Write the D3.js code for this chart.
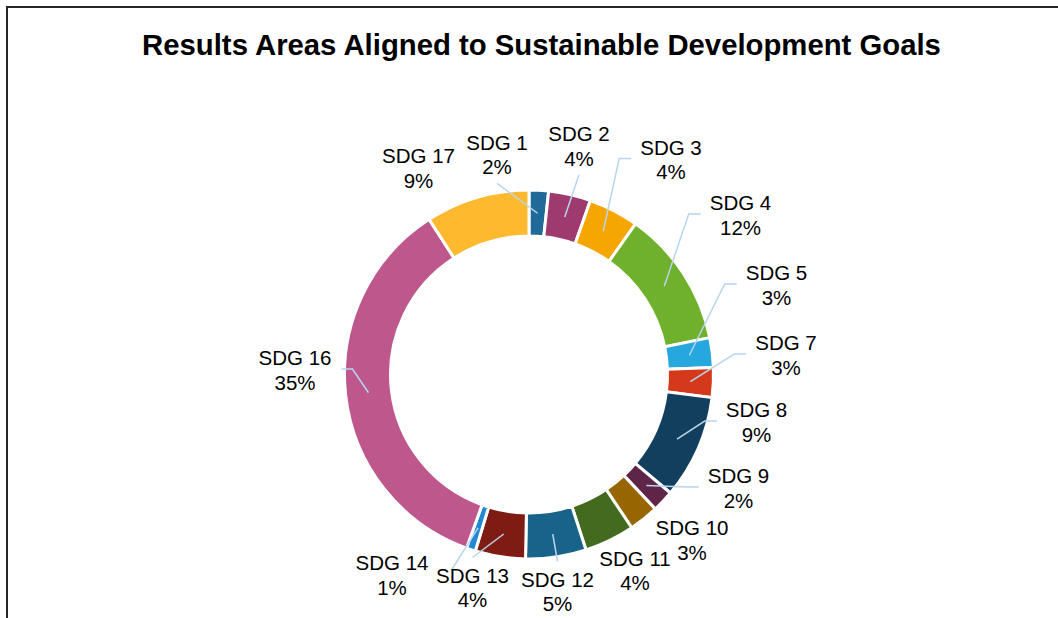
<!DOCTYPE html>
<html>
<head>
<meta charset="utf-8">
<script src="https://cdn.jsdelivr.net/npm/d3@7"></script>
<style>
  html, body { margin: 0; padding: 0; background: #ffffff; }
  svg { display: block; }
  text { font-family: "Liberation Sans", Arial, sans-serif; fill: #000; }
</style>
</head>
<body>
<svg id="chart" width="1058" height="618"></svg>
<script>
// ---------------- data ----------------
const title = "Results Areas Aligned to Sustainable Development Goals";
const categories = ["SDG 1","SDG 2","SDG 3","SDG 4","SDG 5","SDG 7","SDG 8","SDG 9","SDG 10","SDG 11","SDG 12","SDG 13","SDG 14","SDG 16","SDG 17"];
const shares = [1.7, 3.7, 4.4, 12.0, 2.6, 2.6, 9.1, 1.9, 2.6, 4.4, 5.3, 4.4, 0.8, 35.4, 9.1];
const colors = ["#1f6a99","#9e3a6e","#f6a600","#6fb02c","#26a8df","#d4391c","#133f5e","#5e2549","#976603","#436b1f","#19638a","#7e1c13","#2189d4","#be578c","#feb92f"];

// ---------------- layout (label placement, as in the reference) ----------------
const labelPos = [
  [497,149.5],[579,141],[671,154.5],[740.5,210],[776.5,280],[786,350],[756.5,417],
  [738.5,483],[692,535],[635,565.5],[557.5,586.5],[472.5,582.5],[392,570],[295,365],[418.5,163]
];
const leaderType = ["below","below","left","left","left","left","left","left","none","none","above","above","rightShort","right","none"];

const W = 1058, H = 618;
const cx = 529, cy = 374.5;
const rOuter = 184.5, rInner = 138.5;
const fontSize = 20.5, lineGap = 24.8;

const svg = d3.select("#chart");

// frame
svg.append("path")
  .attr("d", `M7,${H} L7,7 L${W},7`)
  .attr("fill", "none")
  .attr("stroke", "#262626")
  .attr("stroke-width", 2);

// title
svg.append("text")
  .attr("x", 541.5)
  .attr("y", 55)
  .attr("text-anchor", "middle")
  .style("font-size", "29.3px")
  .style("font-weight", "bold")
  .text(title);

const data = categories.map((c, i) => ({ name: c, value: shares[i], color: colors[i], i }));
const total = d3.sum(shares);
const pct = d3.format(".0%");

const pie = d3.pie().sort(null).value(d => d.value);
const arcs = pie(data);
const arc = d3.arc().innerRadius(rInner).outerRadius(rOuter);
const centroidArc = d3.arc().innerRadius(140).outerRadius(183);

const g = svg.append("g").attr("transform", `translate(${cx},${cy})`);
g.selectAll("path.slice")
  .data(arcs)
  .join("path")
  .attr("class", "slice")
  .attr("d", arc)
  .attr("fill", d => d.data.color)
  .attr("stroke", "#ffffff")
  .attr("stroke-width", 3);

// labels
const labelG = svg.append("g");
arcs.forEach((a, i) => {
  const [lx, ly] = labelPos[i];
  const t = labelG.append("text")
    .attr("text-anchor", "middle")
    .style("font-size", fontSize + "px");
  t.append("tspan").attr("x", lx).attr("y", ly).text(a.data.name);
  t.append("tspan").attr("x", lx).attr("y", ly + lineGap).text(pct(a.data.value / total));
  const bb = t.node().getBBox();
  const [c0x, c0y] = centroidArc.centroid(a);
  const start = [cx + c0x, cy + c0y];
  const midY = ly + 4;
  let pts = null;
  switch (leaderType[i]) {
    case "left":
      pts = [start, [bb.x - 21, midY], [bb.x - 9, midY]]; break;
    case "right":
      pts = [start, [bb.x + bb.width + 21, midY], [bb.x + bb.width + 10, midY]]; break;
    case "rightShort":
      pts = [start, [bb.x + bb.width + 23, ly]]; break;
    case "below":
      pts = [start, [lx, ly + lineGap + 9]]; break;
    case "above":
      pts = [start, [lx, ly - 25]]; break;
  }
  if (pts) {
    svg.append("path")
      .attr("d", d3.line()(pts))
      .attr("fill", "none")
      .attr("stroke", "#b9d5ee")
      .attr("stroke-width", 1.5);
  }
});
labelG.raise();
</script>
</body>
</html>
